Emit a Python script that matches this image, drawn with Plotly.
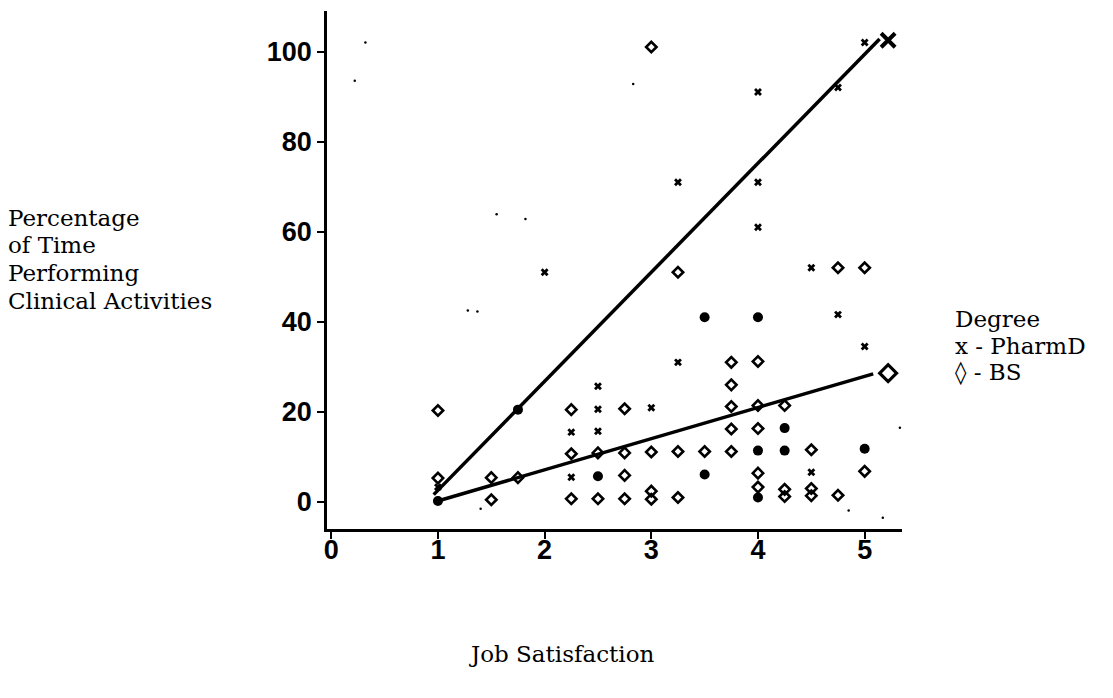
import plotly.graph_objects as go

# ---- data ----
pharmd_x = [1, 2, 2.25, 2.25, 2.5, 2.5, 2.5, 3, 3.25, 3.25, 4, 4, 4, 4.5, 4.5, 4.75, 4.75, 5, 5]
pharmd_y = [3.3, 51, 15.5, 5.5, 25.7, 20.6, 15.7, 20.9, 71, 31, 91, 71, 61, 52, 6.6, 92, 41.6, 102, 34.5]

bs_x = [1, 1, 1.5, 1.5, 1.75, 2.25, 2.25, 2.25, 2.5, 2.5, 2.75, 2.75, 2.75, 2.75,
        3, 3, 3, 3, 3.25, 3.25, 3.25, 3.5, 3.75, 3.75, 3.75, 3.75, 3.75,
        4, 4, 4, 4, 4, 4.25, 4.25, 4.25, 4.5, 4.5, 4.5, 4.75, 4.75, 5, 5]
bs_y = [20.3, 5.3, 5.4, 0.5, 5.4, 20.5, 10.7, 0.7, 10.9, 0.7, 20.7, 10.9, 5.9, 0.7,
        101, 11.1, 2.4, 0.6, 51, 11.2, 1.0, 11.2, 31, 26, 21.2, 16.2, 11.2,
        31.2, 21.4, 16.3, 6.4, 3.3, 21.4, 2.8, 1.2, 11.6, 3.0, 1.4, 52, 1.5, 52, 6.8]

both_x = [1, 1.75, 2.5, 3.5, 3.5, 4, 4, 4, 4.25, 4.25, 5]
both_y = [0.2, 20.5, 5.7, 41, 6.1, 41, 11.4, 1.0, 16.4, 11.4, 11.8]

# fitted regression lines (intercept, slope) and their x extents
pharmd_fit = (-21.6, 24.2)
pharmd_fit_x = [0.96, 5.14]
bs_fit = (-6.7, 6.92)
bs_fit_x = [1.03, 5.08]

# line-end labels
end_x = [5.22]
pharmd_end_y = [102.5]
bs_end_y = [28.6]

# scan specks
speck_x = [0.32, 0.22, 2.83, 1.55, 1.82, 1.28, 1.37, 1.4, 4.85, 5.17, 5.33]
speck_y = [102, 93.5, 92.8, 63.9, 62.8, 42.5, 42.3, -1.5, -1.9, -3.5, 16.5]

x_ticks = [0, 1, 2, 3, 4, 5]
y_ticks = [0, 20, 40, 60, 80, 100]

ylabel_lines = ["Percentage", "of Time", "Performing", "Clinical Activities"]
legend_lines = ["Degree", "x - PharmD", "\u25ca - BS"]
x_title = "Job Satisfaction"

# ---- layout geometry (page pixels; page body has an 8px margin) ----
BODY = 8
FIG_W, FIG_H = 1105, 690
L, W, T, H = 319, 575, 3, 518
R = FIG_W - L - W
B = FIG_H - T - H


def px_x(px):
    return (px - BODY - L) / W


def px_y(py):
    return 1 - (py - BODY - T) / H


fig = go.Figure()


def fit_y(fit, xs):
    return [fit[0] + fit[1] * v for v in xs]


fig.add_trace(go.Scatter(x=pharmd_fit_x, y=fit_y(pharmd_fit, pharmd_fit_x), mode="lines",
                         line=dict(color="black", width=3.5), showlegend=False, hoverinfo="skip"))
fig.add_trace(go.Scatter(x=bs_fit_x, y=fit_y(bs_fit, bs_fit_x), mode="lines",
                         line=dict(color="black", width=3.5), showlegend=False, hoverinfo="skip"))

fig.add_trace(go.Scatter(x=speck_x, y=speck_y, mode="markers",
                         marker=dict(symbol="circle", size=2.5, color="black"), showlegend=False))

fig.add_trace(go.Scatter(x=bs_x, y=bs_y, mode="markers", name="BS",
                         marker=dict(symbol="diamond-open", size=8, color="black",
                                     line=dict(width=2.6, color="black")), showlegend=False))
fig.add_trace(go.Scatter(x=pharmd_x, y=pharmd_y, mode="markers", name="PharmD",
                         marker=dict(symbol="x", size=7, color="black",
                                     line=dict(width=0)), showlegend=False))
fig.add_trace(go.Scatter(x=both_x, y=both_y, mode="markers", name="Both",
                         marker=dict(symbol="circle", size=10, color="black"), showlegend=False))

fig.add_trace(go.Scatter(x=end_x, y=pharmd_end_y, mode="markers",
                         marker=dict(symbol="x-thin-open", size=14, color="black",
                                     line=dict(width=4, color="black")), showlegend=False))
fig.add_trace(go.Scatter(x=end_x, y=bs_end_y, mode="markers",
                         marker=dict(symbol="diamond-open", size=13, color="black",
                                     line=dict(width=3.2, color="black")), showlegend=False))

serif = "DejaVu Serif"
sans = "Liberation Sans"
TXT = 23

axis_common = dict(showgrid=False, zeroline=False, showline=True, linecolor="black", linewidth=2.5,
                   ticks="outside", ticklen=7, tickwidth=2, tickcolor="black",
                   tickfont=dict(family=sans, size=27, color="black", weight="bold"))

fig.update_layout(
    width=FIG_W, height=FIG_H,
    margin=dict(l=L, r=R, t=T, b=B),
    paper_bgcolor="white", plot_bgcolor="white",
    xaxis=dict(range=[-0.04, 5.35], tickvals=x_ticks, ticktext=[str(v) for v in x_ticks],
               ticklabelstandoff=-12, **axis_common),
    yaxis=dict(range=[-6, 109], tickvals=y_ticks, ticktext=[str(v) for v in y_ticks],
               **axis_common),
)

annotations = []
for i, t in enumerate(ylabel_lines):
    annotations.append(dict(text=t, xref="paper", yref="paper", x=px_x(6),
                            xanchor="left", y=px_y(218 + 27.5 * i), yanchor="middle",
                            showarrow=False, font=dict(family=serif, size=TXT, color="black")))
for i, t in enumerate(legend_lines):
    annotations.append(dict(text=t, xref="paper", yref="paper", x=px_x(953),
                            xanchor="left", y=px_y(319 + 26.5 * i), yanchor="middle",
                            showarrow=False, font=dict(family=serif, size=TXT, color="black")))
annotations.append(dict(text=x_title, xref="paper", yref="paper", x=px_x(562),
                        xanchor="center", y=px_y(654), yanchor="middle",
                        showarrow=False, font=dict(family=serif, size=TXT, color="black")))
fig.update_layout(annotations=annotations)

fig.write_html("out.html")
